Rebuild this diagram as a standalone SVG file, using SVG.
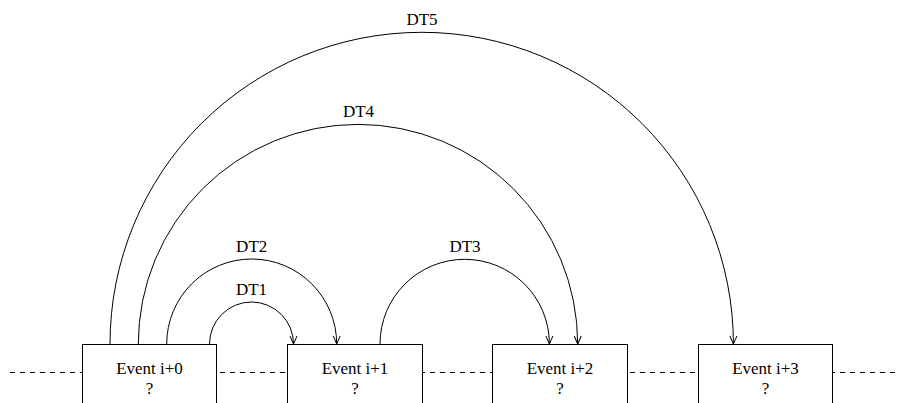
<svg xmlns="http://www.w3.org/2000/svg" width="897" height="403" viewBox="0 0 897 403">
  <style>
    .bg { fill: #ffffff; }
    .timeline { stroke: #000; stroke-width: 1; stroke-dasharray: 5 5; fill: none; }
    .box { fill: #ffffff; stroke: #000; stroke-width: 1; }
    .arc { fill: none; stroke: #000; stroke-width: 1; marker-end: url(#open-arrow); }
    .lbl { font-family: "Liberation Serif", "Times New Roman", serif; font-size: 17px; fill: #000; text-anchor: middle; }
  </style>
  <defs>
    <marker id="open-arrow" markerUnits="userSpaceOnUse" orient="auto" overflow="visible" markerWidth="10" markerHeight="10">
      <path d="M-8,-3.5 L0,0 L-8,3.5" fill="none" stroke="#000" stroke-width="1"/>
    </marker>
  </defs>

  <rect class="bg" x="0" y="0" width="897" height="403"/>

  <!-- dashed time axis running behind the event boxes -->
  <line class="timeline" x1="10" y1="372.5" x2="897" y2="372.5"/>

  <g id="event-0">
    <rect class="box" x="82.5" y="344.5" width="134" height="70"/>
    <text class="lbl" x="149.5" y="373.5">Event i+0</text>
    <text class="lbl" x="149.5" y="393.5">?</text>
  </g>
  <g id="event-1">
    <rect class="box" x="287.5" y="344.5" width="135" height="70"/>
    <text class="lbl" x="355" y="373.5">Event i+1</text>
    <text class="lbl" x="355" y="393.5">?</text>
  </g>
  <g id="event-2">
    <rect class="box" x="492.5" y="344.5" width="135" height="70"/>
    <text class="lbl" x="560" y="373.5">Event i+2</text>
    <text class="lbl" x="560" y="393.5">?</text>
  </g>
  <g id="event-3">
    <rect class="box" x="698.5" y="344.5" width="134" height="70"/>
    <text class="lbl" x="765.5" y="373.5">Event i+3</text>
    <text class="lbl" x="765.5" y="393.5">?</text>
  </g>

  <!-- time-difference arcs between events -->
  <g id="connectors">
    <g id="dt1">
      <path class="arc" d="M209.5,344 A42,42 0 0 1 293.5,344"/>
      <text class="lbl" x="251.5" y="295">DT1</text>
    </g>
    <g id="dt2">
      <path class="arc" d="M166.7,344 A85,85 0 0 1 336.7,344"/>
      <text class="lbl" x="251.7" y="251.7">DT2</text>
    </g>
    <g id="dt3">
      <path class="arc" d="M380,344 A84.7,84.7 0 0 1 549.4,344"/>
      <text class="lbl" x="465" y="251.7">DT3</text>
    </g>
    <g id="dt4">
      <path class="arc" d="M138.3,344 A219.7,219.7 0 0 1 577.7,344"/>
      <text class="lbl" x="358.5" y="117.3">DT4</text>
    </g>
    <g id="dt5">
      <path class="arc" d="M110,344 A311.7,311.7 0 0 1 733.4,344"/>
      <text class="lbl" x="422" y="25">DT5</text>
    </g>
  </g>
</svg>
